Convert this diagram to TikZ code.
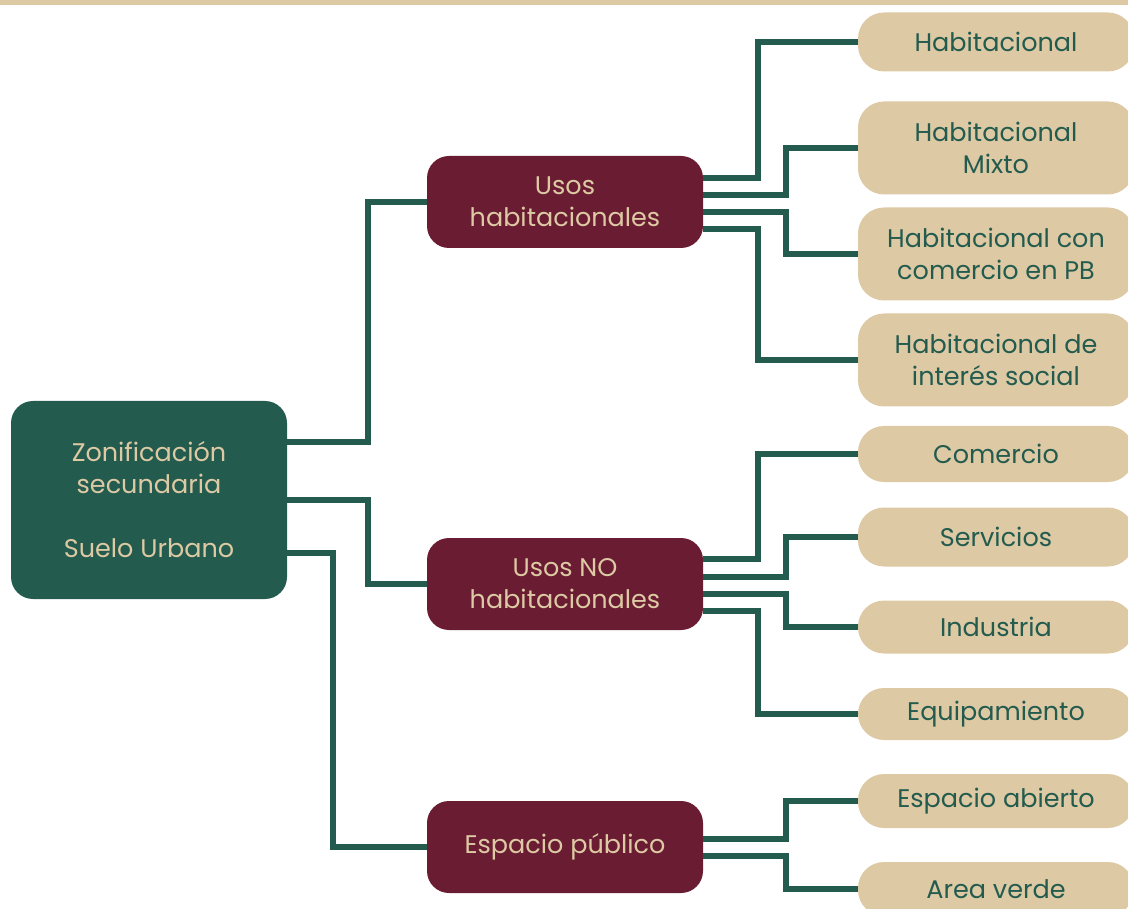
\documentclass[tikz,border=0pt]{standalone}
\usepackage{fontspec}
\setmainfont{Poppins}
\definecolor{gob}{HTML}{235B4E}
\definecolor{vino}{HTML}{691C32}
\definecolor{arena}{HTML}{DDC9A3}
\tikzset{
  base/.style={rectangle, rounded corners=22pt, inner sep=0pt, align=center,
    font=\fontsize{25.5}{32}\selectfont, minimum width=276pt},
  rootbox/.style={base, fill=gob, text=arena, minimum height=198pt},
  midbox/.style={base, fill=vino, text=arena, minimum height=92pt},
  leafbox/.style={base, fill=arena, text=gob, rounded corners=26pt},
  conn/.style={draw=gob, line width=5.5pt}
}
\begin{document}
\begin{tikzpicture}[x=1pt,y=-1pt]
\useasboundingbox (0,0) rectangle (1128,909);
\clip (0,0) rectangle (1128,909);
\fill[arena] (0,0) rectangle (1128,5);
% root
\node[rootbox] (root) at (149,500) {Zonificación\\secundaria\\[32pt]Suelo Urbano};
% middle
\node[midbox] (uh) at (565,202) {Usos\\habitacionales};
\node[midbox] (un) at (565,584) {Usos NO\\habitacionales};
\node[midbox] (ep) at (565,847) {Espacio público};
% leaves
\node[leafbox, minimum height=59pt] (h1) at (996,42) {Habitacional};
\node[leafbox, minimum height=93pt] (h2) at (996,148) {Habitacional\\Mixto};
\node[leafbox, minimum height=93pt] (h3) at (996,254) {Habitacional con\\comercio en PB};
\node[leafbox, minimum height=93pt] (h4) at (996,360) {Habitacional de\\interés social};
\node[leafbox, minimum height=56pt] (n1) at (996,454) {Comercio};
\node[leafbox, minimum height=59pt] (n2) at (996,537) {Servicios};
\node[leafbox, minimum height=53pt] (n3) at (996,627) {Industria};
\node[leafbox, minimum height=52pt] (n4) at (996,714) {Equipamiento};
\node[leafbox, minimum height=54pt] (e1) at (996,801) {Espacio abierto};
\node[leafbox, minimum height=54pt] (e2) at (996,889) {Area verde};
% root connectors
\draw[conn] ([yshift=58pt]root.east) -- ++(81,0) |- (uh.west);
\draw[conn] ([yshift=0pt]root.east) -- ++(81,0) |- (un.west);
\draw[conn] ([yshift=-53pt]root.east) -- ++(46,0) |- (ep.west);
% usos habitacionales
\draw[conn] ([yshift=24pt]uh.east) -- ++(55,0) |- (h1.west);
\draw[conn] ([yshift=7pt]uh.east) -- ++(83,0) |- (h2.west);
\draw[conn] ([yshift=-10pt]uh.east) -- ++(83,0) |- (h3.west);
\draw[conn] ([yshift=-27pt]uh.east) -- ++(55,0) |- (h4.west);
% usos no habitacionales
\draw[conn] ([yshift=25pt]un.east) -- ++(55,0) |- (n1.west);
\draw[conn] ([yshift=7pt]un.east) -- ++(83,0) |- (n2.west);
\draw[conn] ([yshift=-10pt]un.east) -- ++(83,0) |- (n3.west);
\draw[conn] ([yshift=-27pt]un.east) -- ++(55,0) |- (n4.west);
% espacio publico
\draw[conn] ([yshift=8pt]ep.east) -- ++(83,0) |- (e1.west);
\draw[conn] ([yshift=-9pt]ep.east) -- ++(83,0) |- (e2.west);
\end{tikzpicture}
\end{document}
